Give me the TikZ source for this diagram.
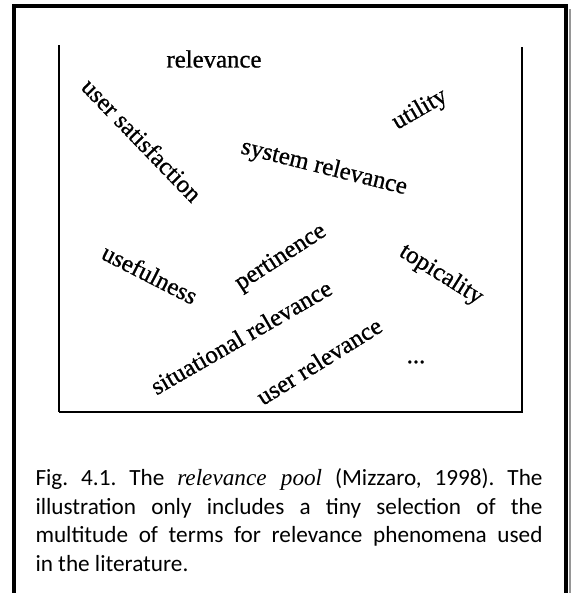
\documentclass[tikz,border=0pt]{standalone}
\usepackage{fontspec}
\setmainfont{Carlito}
\newfontfamily\scanfont[FakeBold=0.8]{Liberation Serif}
\newfontfamily\capitalic{Liberation Serif}
\tikzset{every picture/.style={line width=0.75pt}}

\begin{document}
\frenchspacing
\begin{tikzpicture}[x=0.75pt,y=0.75pt,yscale=-1,xscale=1,
  term/.style={font=\scanfont\fontsize{18.6}{20}\selectfont, inner sep=0pt}]
%set diagram size 573 x 593
\useasboundingbox (0,0) rectangle (573,593);

%Shape: Frame
\draw [color={rgb, 255:red, 150; green, 150; blue, 150 }, line width=1.5]  (569.5,9) -- (569.5,593) ;
\draw [line width=3]  (14,593) -- (14,6) -- (566,6) -- (566,593) ;

%Straight Lines: pool
\draw [line width=1.2]  (59,45) -- (59,412) ;
\draw [line width=1.2]  (522,47) -- (522,412) ;
\draw [line width=1.8]  (58.5,412) -- (522.5,412) ;

% Text Node
\draw (214,59) node [term] (rel) {relevance};
% Text Node
\draw (142,140) node [term, rotate=-46] (usersat) {user satisfaction};
% Text Node
\draw (420,110) node [term, rotate=30] (utility) {utility};
% Text Node
\draw (324,168) node [term, rotate=-14] (sysrel) {system relevance};
% Text Node
\draw (150,274) node [term, rotate=-27] (useful) {usefulness};
% Text Node
\draw (281,258) node [term, rotate=33] (pert) {pertinence};
% Text Node
\draw (441,275) node [term, rotate=-32] (topic) {topicality};
% Text Node
\draw (241,337) node [term, rotate=30] (sitrel) {situational relevance};
% Text Node
\draw (319,361) node [term, rotate=32] (userrel) {user relevance};
% Text Node
\draw (416,362) node [term] (more) {...};

% Text Node
\draw (35,468) node [anchor=north west, inner sep=0pt, text width=380.25pt, align=justify,
  font=\fontsize{17.4}{21.4}\selectfont] (caption)
  {\hyphenpenalty=10000 Fig. 4.1. The {\capitalic\itshape relevance pool} (Mizzaro, 1998). The\linebreak
  illustration only includes a tiny selection of the\linebreak
  multitude of terms for relevance phenomena used\linebreak
  in the literature.};

\end{tikzpicture}
\end{document}
